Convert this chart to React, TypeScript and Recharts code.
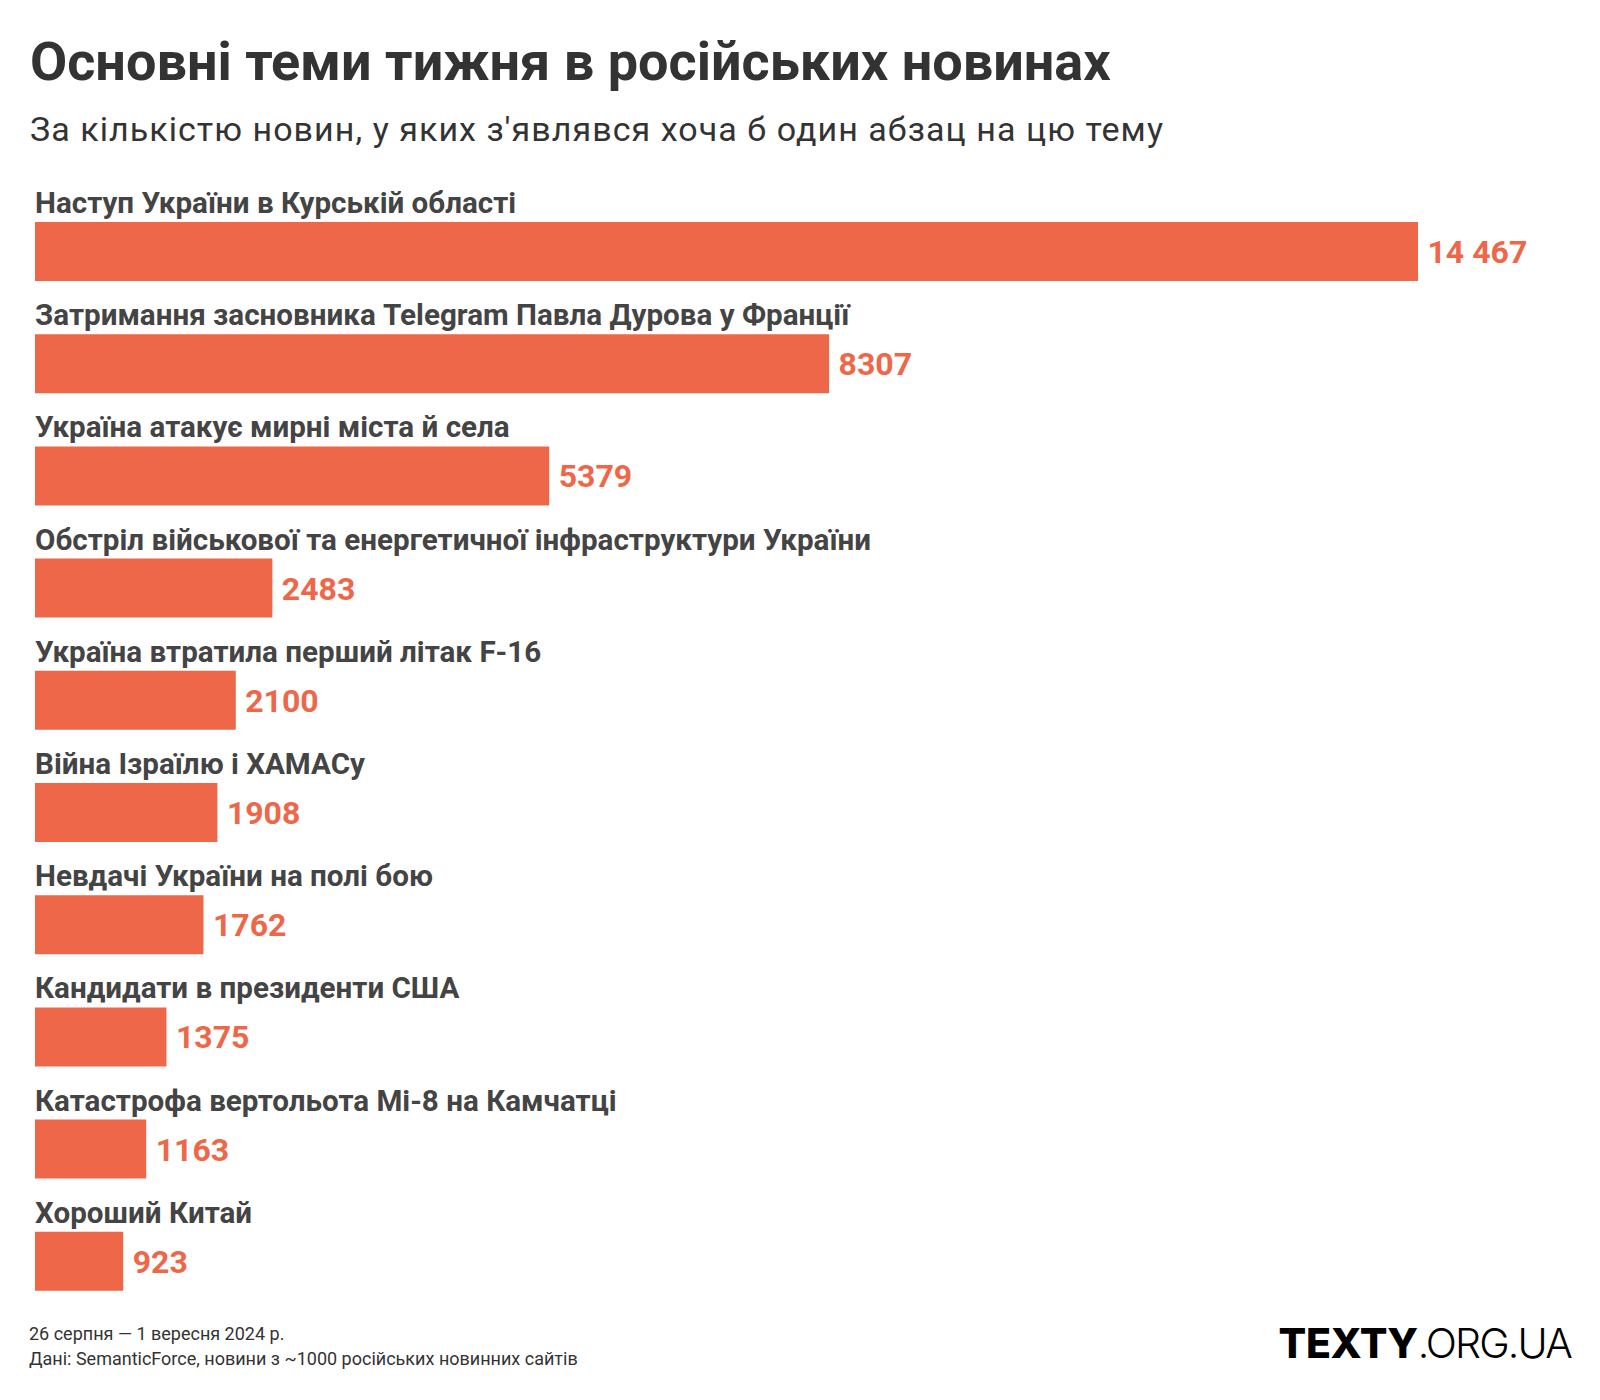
import React from 'react';
import { BarChart, Bar, XAxis, YAxis, LabelList } from 'recharts';

// Теми тижня та кількість новин
const topics = [
  'Наступ України в Курській області',
  'Затримання засновника Telegram Павла Дурова у Франції',
  'Україна атакує мирні міста й села',
  'Обстріл військової та енергетичної інфраструктури України',
  'Україна втратила перший літак F-16',
  'Війна Ізраїлю і ХАМАСу',
  'Невдачі України на полі бою',
  'Кандидати в президенти США',
  'Катастрофа вертольота Мі-8 на Камчатці',
  'Хороший Китай',
];
const counts = [14467, 8307, 5379, 2483, 2100, 1908, 1762, 1375, 1163, 923];

const title = 'Основні теми тижня в російських новинах';
const subtitle = "За кількістю новин, у яких з'являвся хоча б один абзац на цю тему";
const footnotes = [
  '26 серпня — 1 вересня 2024 р.',
  'Дані: SemanticForce, новини з ~1000 російських новинних сайтів',
];

const data = topics.map((topic, i) => ({ topic, count: counts[i] }));

const BAR = '#ed6748';
const FONT = 'Roboto, "Noto Sans", sans-serif';

const formatCount = (v: number) =>
  v >= 10000 ? `${Math.floor(v / 1000)} ${String(v % 1000).padStart(3, '0')}` : String(v);

const TopicLabel = (props: any) => {
  const { x, y, value } = props;
  return (
    <text x={x} y={y - 9} fill="#444" fontSize={29.6} fontWeight={700} fontFamily={FONT}>
      {value}
    </text>
  );
};

const CountLabel = (props: any) => {
  const { x, y, width, height, value } = props;
  return (
    <text
      x={x + width + 9.5}
      y={y + height / 2 + 11.5}
      fill={BAR}
      fontSize={32}
      fontWeight={700}
      fontFamily={FONT}
    >
      {formatCount(value)}
    </text>
  );
};

export default function App() {
  return (
    <div style={{ position: 'absolute', top: 0, left: 0, width: 1600, height: 1400, background: '#fff' }}>
      <svg width={1600} height={1400} style={{ position: 'absolute', top: 0, left: 0 }}>
        <text x={30} y={80} fill="#333" fontSize={54} fontWeight={700} fontFamily={FONT}>
          {title}
        </text>
        <text x={30} y={141} fill="#333" fontSize={34} fontWeight={400} letterSpacing={1.05} fontFamily={FONT}>
          {subtitle}
        </text>
        {footnotes.map((line, i) => (
          <text key={i} x={29} y={1340 + i * 25} fill="#333" fontSize={18} fontFamily={FONT}>
            {line}
          </text>
        ))}
        <text x={1571} y={1358} textAnchor="end" fill="#000" fontSize={41} fontFamily="Inter, sans-serif">
          <tspan fontWeight={800} letterSpacing={-0.4}>TEXTY</tspan>
          <tspan fontWeight={300} letterSpacing={-1.8}>.ORG.UA</tspan>
        </text>
      </svg>
      <div style={{ position: 'absolute', top: 0, left: 0 }}>
        <BarChart
          width={1600}
          height={1400}
          data={data}
          layout="vertical"
          margin={{ top: 195, right: 182, bottom: 83, left: 35 }}
          barCategoryGap={0}
        >
          <XAxis type="number" domain={[0, 14467]} allowDataOverflow hide />
          <YAxis type="category" dataKey="topic" hide />
          <Bar dataKey="count" fill={BAR} barSize={59} isAnimationActive={false}>
            <LabelList dataKey="topic" content={TopicLabel} />
            <LabelList dataKey="count" content={CountLabel} />
          </Bar>
        </BarChart>
      </div>
    </div>
  );
}
